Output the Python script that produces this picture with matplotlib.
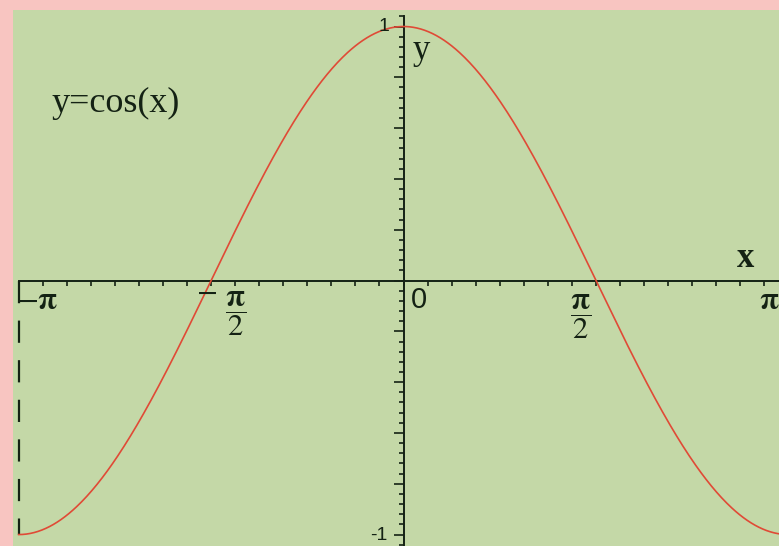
import numpy as np
import matplotlib
matplotlib.use("Agg")
import matplotlib.pyplot as plt

plt.rcParams["lines.scale_dashes"] = False

# fmt: off
PINK  = "#f8c5c1"
GREEN = "#c4d8a7"
INK   = "#142214"
CURVE = "#e04a36"
# fmt: on

# the chart is the plot of y = cos(x) on [-pi, pi]
x_vals = np.linspace(-np.pi, np.pi, 600)
y_vals = np.cos(x_vals)

x_min, x_max = -np.pi, np.pi
y_min, y_max = -1.0, 1.0

x_tick_values = np.arange(-16, 16) * np.pi / 16     # small ticks every pi/16
y_major_ticks = np.round(np.arange(-1.0, 1.01, 0.2), 2)
y_minor_ticks = np.round(np.arange(-1.04, 1.05, 0.04), 2)

x_labels    = [r"$-\mathbf{\pi}$", r"$-$", r"$\dfrac{\mathbf{\pi}}{2}$", "0", r"$\dfrac{\mathbf{\pi}}{2}$", r"$\mathbf{\pi}$"]
x_label_at  = [-np.pi, -np.pi / 2, -np.pi / 2, 0, np.pi / 2, np.pi]
x_label_off = [(19, -21), (-5, -12), (25, -33), (15.5, -19.5), (-15, -36), (-19, -21)]
y_labels    = ["1", "-1"]
y_label_at  = [1.0, -1.0]
y_label_off = [(-20, 0), (-25, -1)]

fig = plt.figure(figsize=(7.79, 5.46), dpi=100)
fig.patch.set_facecolor(PINK)
ax = fig.add_axes([13 / 779, 0, 766 / 779, 536 / 546])
ax.set_facecolor(GREEN)

ax.set_xlim(-3.188, 3.065)
ax.set_ylim(-1.045, 1.065)

# curve
ax.plot(x_vals, y_vals, color=CURVE, lw=1.2, zorder=3)

# dashed line at x = -pi
ax.plot([x_min, x_min], [0, y_min], color=INK, lw=1.6, linestyle=(0, (16, 12.5)), zorder=2)

# axes through the origin
for side in ["top", "right"]:
    ax.spines[side].set_visible(False)
ax.spines["left"].set_position(("data", 0))
ax.spines["bottom"].set_position(("data", 0))
ax.spines["left"].set_bounds(-1.04, 1.04)
ax.spines["bottom"].set_bounds(x_min, 3.2)
for side in ["left", "bottom"]:
    ax.spines[side].set_color(INK)
    ax.spines[side].set_linewidth(1.4)

ax.set_xticks(x_tick_values)
ax.set_xticklabels([])
ax.tick_params(axis="x", direction="out", length=3.5, width=1.2, color=INK)
ax.set_yticks(y_major_ticks)
ax.set_yticks(y_minor_ticks, minor=True)
ax.set_yticklabels([])
ax.tick_params(axis="y", which="major", direction="out", length=7, width=1.2, color=INK)
ax.tick_params(axis="y", which="minor", direction="out", length=3.5, width=1.2, color=INK)

for lab, at, off in zip(x_labels, x_label_at, x_label_off):
    fs = 21 if lab == "0" else 22
    fam = "Liberation Sans" if lab == "0" else "Liberation Serif"
    ax.annotate(lab, xy=(at, 0), xytext=off, textcoords="offset pixels",
                ha="center", va="center", fontsize=fs, family=fam,
                math_fontfamily="stix", color=INK, annotation_clip=False)

for lab, at, off in zip(y_labels, y_label_at, y_label_off):
    ax.annotate(lab, xy=(0, at), xytext=off, textcoords="offset pixels",
                ha="center", va="center", fontsize=14, family="Liberation Sans",
                color=INK, annotation_clip=False)

ax.text(0.5333, 0.9086, "y", transform=ax.transAxes, ha="center", va="baseline",
        fontsize=25, family="Liberation Serif", color=INK)
ax.text(0.9569, 0.5205, "x", transform=ax.transAxes, ha="center", va="baseline",
        fontsize=25, family="Liberation Serif", fontweight="bold", color=INK)
ax.text(0.0509, 0.8097, "y=cos(x)", transform=ax.transAxes, ha="left", va="baseline",
        fontsize=26, family="Liberation Serif", color=INK)

fig.savefig("out.png", dpi=100, facecolor=PINK)
